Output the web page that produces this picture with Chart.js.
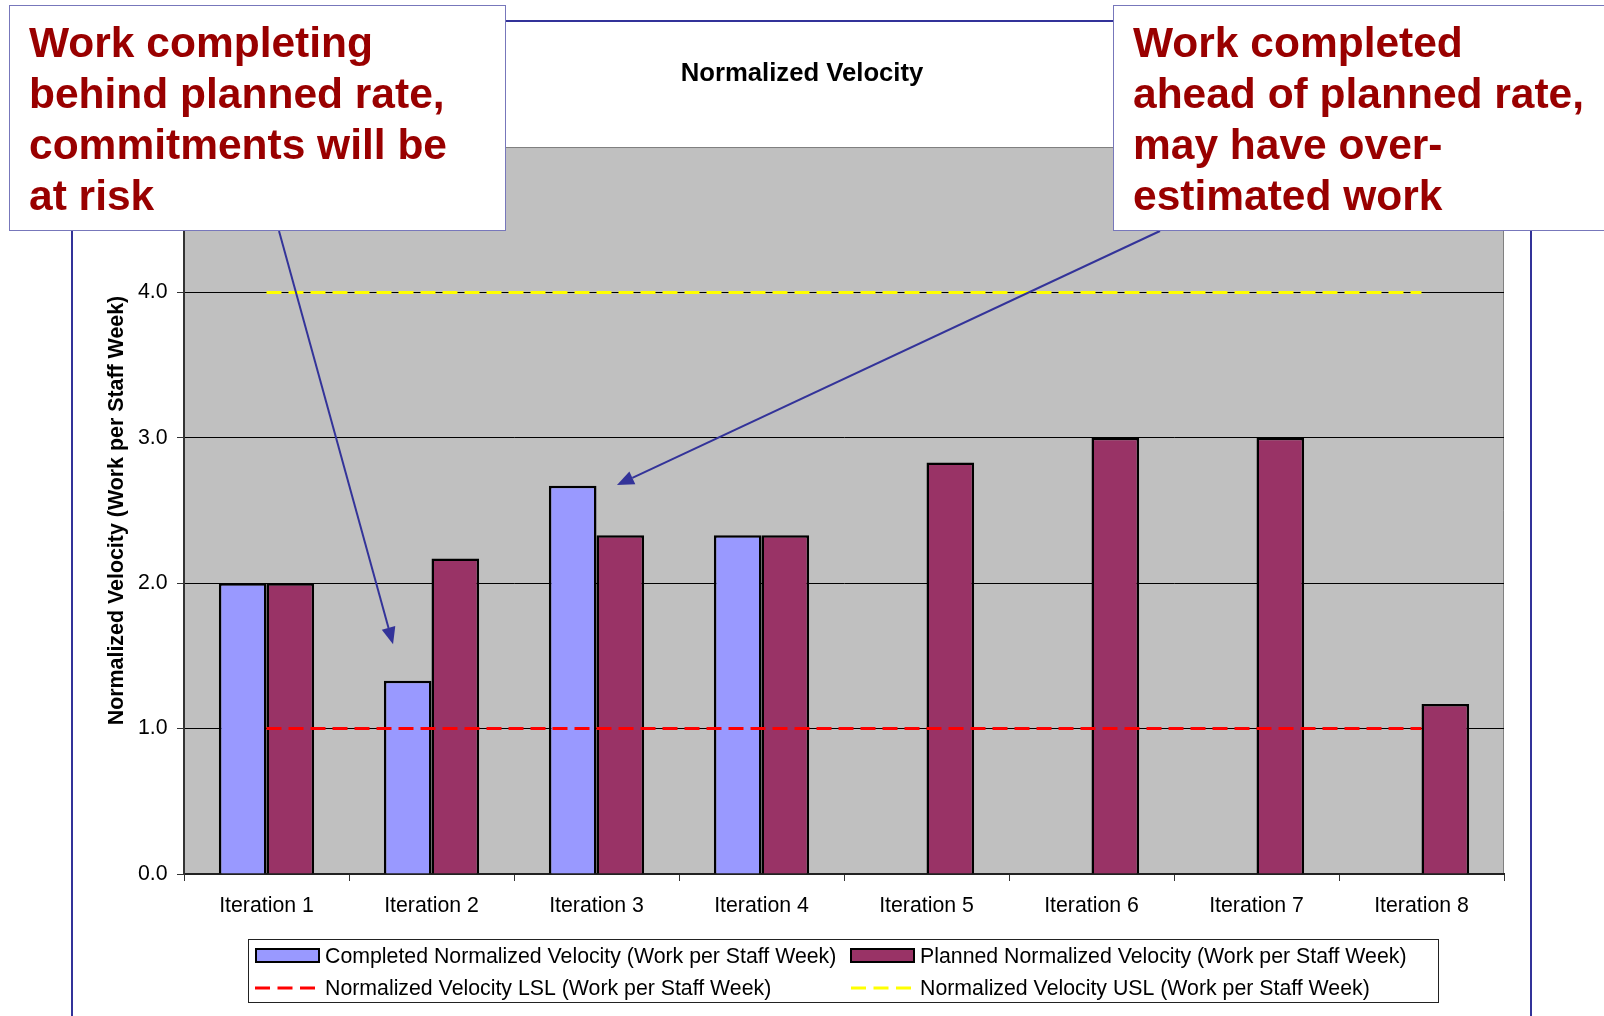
<!DOCTYPE html>
<html>
<head>
<meta charset="utf-8">
<title>Normalized Velocity</title>
<script src="https://cdn.jsdelivr.net/npm/chart.js@4.4.0/dist/chart.umd.min.js"></script>
<style>
  html, body { margin: 0; padding: 0; background: #fff; }
  canvas { display: block; }
</style>
</head>
<body>
<canvas id="velocityChart" width="1604" height="1016"></canvas>
<script>
const iterations = ["Iteration 1", "Iteration 2", "Iteration 3", "Iteration 4",
                    "Iteration 5", "Iteration 6", "Iteration 7", "Iteration 8"];
const completedVelocity = [2.0, 1.33, 2.67, 2.33, null, null, null, null];
const plannedVelocity = [2.0, 2.17, 2.33, 2.33, 2.83, 3.0, 3.0, 1.17];
const lowerLimit = [1.0, 1.0, 1.0, 1.0, 1.0, 1.0, 1.0, 1.0];
const upperLimit = [4.0, 4.0, 4.0, 4.0, 4.0, 4.0, 4.0, 4.0];
const yTicks = [0, 1, 2, 3, 4, 5];

const seriesNames = [
  "Completed Normalized Velocity (Work per Staff Week)",
  "Planned Normalized Velocity (Work per Staff Week)",
  "Normalized Velocity LSL (Work per Staff Week)",
  "Normalized Velocity USL (Work per Staff Week)"
];
const leftNote = ["Work completing", "behind planned rate,", "commitments will be", "at risk"];
const rightNote = ["Work completed", "ahead of planned rate,", "may have over-", "estimated work"];

const FONT = "'Liberation Sans', Arial, Helvetica, sans-serif";
const TEXT_SIZE = 21.3;
Chart.defaults.font.family = FONT;
Chart.defaults.color = "#000";

// gray plot area and the blue frame around the whole chart
const backdrop = {
  id: "backdrop",
  beforeDraw(chart) {
    const { ctx, chartArea: a } = chart;
    ctx.save();
    ctx.strokeStyle = "#333399";
    ctx.lineWidth = 2;
    ctx.beginPath();
    ctx.moveTo(72, 1020);
    ctx.lineTo(72, 21);
    ctx.lineTo(1531, 21);
    ctx.lineTo(1531, 1020);
    ctx.stroke();

    ctx.fillStyle = "#c0c0c0";
    ctx.fillRect(a.left, a.top, a.right - a.left, a.bottom - a.top);
    ctx.strokeStyle = "#808080";
    ctx.lineWidth = 1;
    ctx.beginPath();
    ctx.moveTo(a.left, a.top + 0.5);
    ctx.lineTo(a.right - 0.5, a.top + 0.5);
    ctx.lineTo(a.right - 0.5, a.bottom);
    ctx.stroke();
    ctx.restore();
  }
};

// boxed legend, two columns
const boxLegend = {
  id: "boxLegend",
  afterDraw(chart) {
    const ctx = chart.ctx;
    const slots = [[256, 956], [851, 956], [255, 988], [851, 988]];
    ctx.save();
    ctx.fillStyle = "#fff";
    ctx.fillRect(249, 940, 1190, 63);
    ctx.strokeStyle = "#222";
    ctx.lineWidth = 1;
    ctx.strokeRect(248.5, 939.5, 1190, 63);

    chart.data.datasets.forEach((ds, i) => {
      const [x, y] = slots[i];
      if (ds.type === "line") {
        ctx.strokeStyle = ds.borderColor;
        ctx.lineWidth = 3;
        ctx.setLineDash([15, 7.5]);
        ctx.beginPath();
        ctx.moveTo(x, y);
        ctx.lineTo(x + 60, y);
        ctx.stroke();
        ctx.setLineDash([]);
      } else {
        ctx.fillStyle = ds.backgroundColor;
        ctx.fillRect(x, y - 7, 63, 13);
        ctx.strokeStyle = "#000";
        ctx.lineWidth = 2;
        ctx.strokeRect(x, y - 7, 63, 13);
      }
      ctx.fillStyle = "#000";
      ctx.font = TEXT_SIZE + "px " + FONT;
      ctx.textBaseline = "middle";
      ctx.fillText(ds.label, i % 2 === 0 ? 325 : 920, y + 1);
    });
    ctx.restore();
  }
};

function drawArrow(ctx, x1, y1, x2, y2) {
  const ang = Math.atan2(y2 - y1, x2 - x1);
  const len = 17, half = 7;
  const bx = x2 - len * Math.cos(ang), by = y2 - len * Math.sin(ang);
  ctx.beginPath();
  ctx.moveTo(x1, y1);
  ctx.lineTo(bx, by);
  ctx.stroke();
  ctx.beginPath();
  ctx.moveTo(x2, y2);
  ctx.lineTo(bx + half * Math.sin(ang), by - half * Math.cos(ang));
  ctx.lineTo(bx - half * Math.sin(ang), by + half * Math.cos(ang));
  ctx.closePath();
  ctx.fill();
}

// the two callouts with arrows pointing into the plot
const callouts = {
  id: "callouts",
  afterDraw(chart) {
    const { ctx, scales: { x, y } } = chart;
    const band = x.width / iterations.length;
    ctx.save();
    ctx.strokeStyle = "#333399";
    ctx.fillStyle = "#333399";
    ctx.lineWidth = 2;
    drawArrow(ctx, 279, 231, x.getPixelForValue(1) - 0.233 * band, y.getPixelForValue(1.58));
    drawArrow(ctx, 1160, 231, x.getPixelForValue(2) + 0.124 * band, y.getPixelForValue(2.675));

    const boxes = [
      { left: 9, right: 505, textX: 29, lines: leftNote },
      { left: 1113, right: 1620, textX: 1133, lines: rightNote }
    ];
    boxes.forEach(b => {
      ctx.fillStyle = "#fff";
      ctx.fillRect(b.left, 6, b.right - b.left, 225);
      ctx.strokeStyle = "#7777bb";
      ctx.lineWidth = 1;
      ctx.strokeRect(b.left + 0.5, 5.5, b.right - b.left, 225);
      ctx.fillStyle = "#990000";
      ctx.font = "bold 42.5px " + FONT;
      ctx.textBaseline = "alphabetic";
      b.lines.forEach((t, i) => ctx.fillText(t, b.textX, 57 + i * 51));
    });
    ctx.restore();
  }
};

const ctx = document.getElementById("velocityChart").getContext("2d");
new Chart(ctx, {
  type: "bar",
  data: {
    labels: iterations,
    datasets: [
      {
        label: seriesNames[0],
        data: completedVelocity,
        backgroundColor: "#9999ff",
        borderColor: "#000",
        borderWidth: 2.5,
        order: 2
      },
      {
        label: seriesNames[1],
        data: plannedVelocity,
        backgroundColor: "#993366",
        borderColor: "#000",
        borderWidth: 2.5,
        order: 2
      },
      {
        type: "line",
        label: seriesNames[2],
        data: lowerLimit,
        borderColor: "#ff0000",
        borderWidth: 3,
        borderDash: [15, 7],
        pointRadius: 0,
        fill: false,
        order: 1
      },
      {
        type: "line",
        label: seriesNames[3],
        data: upperLimit,
        borderColor: "#ffff00",
        borderWidth: 3,
        borderDash: [15, 7],
        pointRadius: 0,
        fill: false,
        order: 1
      }
    ]
  },
  options: {
    responsive: false,
    devicePixelRatio: 1,
    animation: false,
    events: [],
    layout: { padding: { left: 100, right: 100, top: 0, bottom: 82 } },
    datasets: {
      bar: { categoryPercentage: 0.577, barPercentage: 1.0 }
    },
    plugins: {
      legend: { display: false },
      tooltip: { enabled: false },
      title: {
        display: true,
        text: "Normalized Velocity",
        color: "#000",
        font: { size: 25.7, weight: "bold", lineHeight: 1.2 },
        padding: { top: 58, bottom: 58.2 }
      }
    },
    scales: {
      x: {
        grid: { offset: true, drawOnChartArea: false, drawTicks: true, tickLength: 7, color: "#333", lineWidth: 1 },
        border: { display: true, color: "#222", width: 2 },
        ticks: { color: "#000", font: { size: TEXT_SIZE }, padding: 12, maxRotation: 0, autoSkip: false },
        afterFit(axis) { axis.height = 60; }
      },
      y: {
        min: 0,
        max: 5,
        afterBuildTicks(axis) { axis.ticks = yTicks.map(v => ({ value: v })); },
        ticks: { color: "#000", font: { size: TEXT_SIZE }, padding: 9.5, callback: v => Number(v).toFixed(1) },
        grid: {
          color: c => (c.tick && c.tick.value === 5 ? "#808080" : "#000"),
          tickColor: "#333",
          tickLength: 7,
          lineWidth: 1
        },
        border: { color: "#333", width: 2 },
        title: {
          display: true,
          text: "Normalized Velocity (Work per Staff Week)",
          color: "#000",
          font: { size: 21.4, weight: "bold", lineHeight: 1.2 },
          padding: { top: 4.2, bottom: 0 }
        },
        afterFit(axis) { axis.width = 84; }
      }
    }
  },
  plugins: [backdrop, boxLegend, callouts]
});
</script>
</body>
</html>
